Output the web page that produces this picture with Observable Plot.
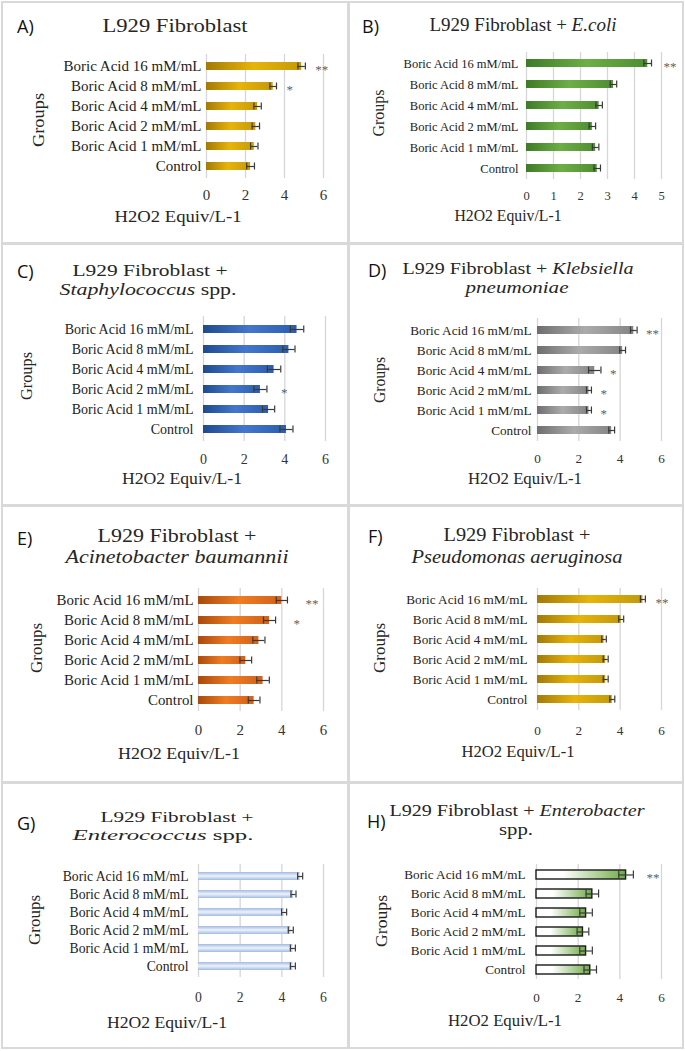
<!DOCTYPE html>
<html><head><meta charset="utf-8">
<script src="https://cdn.jsdelivr.net/npm/d3@7"></script>
<script src="https://cdn.jsdelivr.net/npm/@observablehq/plot@0.6"></script>
<style>
html,body{margin:0;padding:0;background:#fff;}
#wrap{position:relative;width:685px;height:1051px;overflow:hidden;background:#fff;}
.line{position:absolute;background:#d9d9d9;}
</style></head><body><div id="wrap"></div>
<script>
// ---------- data ----------
const groups = ["Boric Acid 16 mM/mL","Boric Acid 8 mM/mL","Boric Acid 4 mM/mL","Boric Acid 2 mM/mL","Boric Acid 1 mM/mL","Control"];
const ticks6 = [0,2,4,6];
const ticks5 = [0,1,2,3,4,5];
const xLabel = "H2O2 Equiv/L-1";
const yLabel = "Groups";

const valuesA = [4.88, 3.42, 2.62, 2.53, 2.45, 2.26];
const errorsA = [0.19, 0.17, 0.19, 0.19, 0.19, 0.20];
const starsA  = ["**","*","","","",""];

const valuesB = [4.49, 3.22, 2.69, 2.44, 2.56, 2.62];
const errorsB = [0.14, 0.12, 0.12, 0.12, 0.12, 0.12];
const starsB  = ["**","","","","",""];

const valuesC = [4.60, 4.20, 3.47, 2.80, 3.20, 4.08];
const errorsC = [0.33, 0.30, 0.33, 0.32, 0.30, 0.32];
const starsC  = ["","","","*","",""];

const valuesD = [4.66, 4.12, 2.77, 2.49, 2.49, 3.59];
const errorsD = [0.16, 0.14, 0.30, 0.12, 0.12, 0.14];
const starsD  = ["**","","*","*","*",""];

const valuesE = [4.00, 3.41, 2.90, 2.27, 3.10, 2.67];
const errorsE = [0.27, 0.29, 0.29, 0.28, 0.30, 0.28];
const starsE  = ["**","*","","","",""];

const valuesF = [5.10, 4.05, 3.22, 3.30, 3.30, 3.62];
const errorsF = [0.12, 0.12, 0.11, 0.12, 0.12, 0.12];
const starsF  = ["**","","","","",""];

const valuesG = [4.88, 4.56, 4.11, 4.43, 4.53, 4.53];
const errorsG = [0.12, 0.12, 0.12, 0.12, 0.12, 0.12];
const starsG  = ["","","","","",""];

const valuesH = [4.30, 2.68, 2.38, 2.23, 2.38, 2.58];
const errorsH = [0.35, 0.30, 0.30, 0.28, 0.30, 0.30];
const starsH  = ["**","","","","",""];

const titleA = [[["L929 Fibroblast", false]]];
const titleB = [[["L929 Fibroblast + ", false], ["E.coli", true]]];
const titleC = [[["L929 Fibroblast +", false]], [["Staphylococcus", true], [" spp.", false]]];
const titleD = [[["L929 Fibroblast + ", false], ["Klebsiella", true]], [["pneumoniae", true]]];
const titleE = [[["L929 Fibroblast +", false]], [["Acinetobacter baumannii", true]]];
const titleF = [[["L929 Fibroblast +", false]], [["Pseudomonas aeruginosa", true]]];
const titleG = [[["L929 Fibroblast +", false]], [["Enterococcus", true], [" spp.", false]]];
const titleH = [[["L929 Fibroblast + ", false], ["Enterobacter", true]], [["spp.", false]]];

// ---------- styles ----------
const serif = 'Liberation Serif, "Times New Roman", Tinos, "DejaVu Serif", serif';
const gold   = {dir:"h", stops:[[0,"#A27A06"],[0.5,"#E8B30A"],[1,"#C39A0C"]]};
const green  = {dir:"h", stops:[[0,"#3F7A28"],[0.5,"#6DAE46"],[1,"#4F8E33"]]};
const blue   = {dir:"h", stops:[[0,"#1E4A8E"],[0.5,"#4477CC"],[1,"#2B5DAE"]]};
const gray   = {dir:"h", stops:[[0,"#6E6E6E"],[0.5,"#ABABAB"],[1,"#858585"]]};
const orange = {dir:"h", stops:[[0,"#A84A0C"],[0.5,"#F07C22"],[1,"#D0621A"]]};
const lblue  = {dir:"v", stops:[[0,"#A3BBE2"],[0.25,"#C6D6EE"],[0.5,"#EEF3FA"],[0.75,"#C6D6EE"],[1,"#A3BBE2"]]};
const wgreen = {dir:"h", stops:[[0,"#FFFFFF"],[0.3,"#FFFFFF"],[1,"#6FAA45"]]};

const panels = [
 {key:"A", letter:"A)", letterPos:[17,33], values:valuesA, errors:errorsA, stars:starsA, ticks:ticks6, domain:[0,6],
  box:[2,2,346,241], frame:[206,323,54,178], font:15, tickPad:11, labelPad:5, padIn:0.59, starDx:10, grad:gold, tsize:18,
  title:titleA, titlePos:[{cx:175,y:32,w:145}], xl:{cx:178,y:222,w:127}, yl:{x:44,cy:120,w:54}},
 {key:"B", letter:"B)", letterPos:[362,33], values:valuesB, errors:errorsB, stars:starsB, ticks:ticks5, domain:[0,5],
  box:[349,2,334,241], frame:[526,661,52,179], font:12.5, tickPad:12, labelPad:8, padIn:0.64, starDx:12, grad:green, tsize:18,
  title:titleB, titlePos:[{cx:523,y:31,w:187}], xl:{cx:508,y:221,w:107}, yl:{x:384,cy:113,w:47}},
 {key:"C", letter:"C)", letterPos:[17,278], values:valuesC, errors:errorsC, stars:starsC, ticks:ticks6, domain:[0,6],
  box:[2,243,346,262], frame:[203,325,316,441], font:14, tickPad:13, labelPad:10, padIn:0.62, starDx:14, grad:blue, tsize:17,
  title:titleC, titlePos:[{cx:150,y:276,w:155},{cx:148,y:295,w:177}], xl:{cx:182,y:484,w:120}, yl:{x:32,cy:376,w:48}},
 {key:"D", letter:"D)", letterPos:[368,277], values:valuesD, errors:errorsD, stars:starsD, ticks:ticks6, domain:[0,6],
  box:[349,243,334,262], frame:[537,661,318,441], font:13.2, tickPad:12, labelPad:6, padIn:0.62, starDx:9, grad:gray, tsize:17,
  title:titleD, titlePos:[{cx:518,y:274,w:231},{cx:517,y:293,w:103}], xl:{cx:525,y:484,w:114}, yl:{x:385,cy:380,w:46}},
 {key:"E", letter:"E)", letterPos:[17,545], values:valuesE, errors:errorsE, stars:starsE, ticks:ticks6, domain:[0,6],
  box:[2,505,346,277], frame:[198,323,588,711], font:14.9, tickPad:13, labelPad:5, padIn:0.60, starDx:18, grad:orange, tsize:18,
  title:titleE, titlePos:[{cx:177,y:542,w:159},{cx:177,y:563,w:223}], xl:{cx:179,y:759,w:122}, yl:{x:42,cy:648,w:50}},
 {key:"F", letter:"F)", letterPos:[368,543], values:valuesF, errors:errorsF, stars:starsF, ticks:ticks6, domain:[0,6],
  box:[349,505,334,277], frame:[537,661,588,710], font:13.2, tickPad:15, labelPad:10, padIn:0.62, starDx:10, grad:gold, tsize:18,
  title:titleF, titlePos:[{cx:517,y:541,w:147},{cx:517,y:563,w:211}], xl:{cx:518,y:757,w:113}, yl:{x:385,cy:648,w:50}},
 {key:"G", letter:"G)", letterPos:[17,830], values:valuesG, errors:errorsG, stars:starsG, ticks:ticks6, domain:[0,6],
  box:[2,782,346,267], frame:[198,323,864,977], font:13.7, tickPad:15, labelPad:10, padIn:0.58, starDx:10, grad:lblue, tsize:15,
  title:titleG, titlePos:[{cx:177,y:822,w:153},{cx:163,y:840,w:181}], xl:{cx:167,y:1028,w:120}, yl:{x:40,cy:920,w:50}},
 {key:"H", letter:"H)", letterPos:[367,828], values:valuesH, errors:errorsH, stars:starsH, ticks:ticks6, domain:[0,6],
  box:[349,782,334,267], frame:[536,661,864,979], font:13.2, tickPad:13, labelPad:11, padIn:0.55, starDx:13, grad:wgreen, barStroke:"#1a1a1a", tsize:16,
  title:titleH, titlePos:[{cx:517,y:816,w:255},{cx:516,y:835,w:34}], xl:{cx:505,y:1026,w:114}, yl:{x:387,cy:921,w:52}}
];

const wrap = document.getElementById("wrap");

// panel frames (light gray borders)
[[1,1,683,2],[1,1047,683,2],[1,1,2,1048],[682,1,2,1048],[347,1,3,1048],[1,242,683,2.5],[1,504,683,2.5],[1,781,683,2.5]]
 .forEach(([x,y,w,h]) => {
   const d = document.createElement("div"); d.className = "line";
   Object.assign(d.style, {left:x+"px", top:y+"px", width:w+"px", height:h+"px"});
   wrap.appendChild(d);
 });

panels.forEach(p => {
  const data = groups.map((g,i) => ({g, v:p.values[i], e:p.errors[i], s:p.stars[i]}));
  const [bx,by,bw,bh] = p.box;
  const [fl,fr,ft,fb] = p.frame;
  const gid = "grad-" + p.key;
  const svg = Plot.plot({
    width: bw, height: bh,
    marginLeft: fl - bx, marginRight: bx + bw - fr, marginTop: ft - by, marginBottom: by + bh - fb,
    style: {fontFamily: serif, fontSize: p.font + "px", color: "#262626", background: "transparent", overflow: "visible"},
    x: {domain: p.domain},
    y: {domain: groups, paddingInner: p.padIn, paddingOuter: p.padIn / 2},
    marks: [
      Plot.gridX(p.ticks, {stroke: "#d6d6d6", strokeOpacity: 1, strokeWidth: 1.3}),
      Plot.barX(data, {x: "v", y: "g", fill: `url(#${gid})`, stroke: p.barStroke || "none", strokeWidth: 1.4}),
      Plot.ruleY(data, {y: "g", x1: d => d.v - d.e, x2: d => d.v + d.e, stroke: "#3a3a3a", strokeWidth: 1.2}),
      Plot.tickX(data, {x: d => d.v - d.e, y: "g", stroke: "#3a3a3a", strokeWidth: 1.2, insetTop: 0.5, insetBottom: 0.5}),
      Plot.tickX(data, {x: d => d.v + d.e, y: "g", stroke: "#3a3a3a", strokeWidth: 1.2, insetTop: 0.5, insetBottom: 0.5}),
      Plot.text(data.filter(d => d.s), {x: d => d.v + d.e, y: "g", text: "s", textAnchor: "start", dx: p.starDx, dy: 3, fontSize: 13, fill: "#5f5f5f"}),
      Plot.axisX({ticks: p.ticks, tickFormat: d => String(d), tickSize: 0, tickPadding: p.tickPad, fontSize: p.font, label: null, color: "#333"}),
      Plot.axisY({tickSize: 0, tickPadding: p.labelPad, fontSize: p.font, label: null, color: "#222"})
    ]
  });
  const defs = d3.select(svg).insert("defs", ":first-child");
  const lg = defs.append("linearGradient").attr("id", gid)
    .attr("x1", 0).attr("y1", 0).attr("x2", p.grad.dir === "h" ? 1 : 0).attr("y2", p.grad.dir === "h" ? 0 : 1);
  p.grad.stops.forEach(([o,c]) => lg.append("stop").attr("offset", o).attr("stop-color", c));
  Object.assign(svg.style, {position: "absolute", left: bx + "px", top: by + "px"});
  wrap.appendChild(svg);
});

// overlay text: titles, panel letters, axis titles
const ov = d3.select(wrap).append("svg").attr("width", 685).attr("height", 1051)
  .style("position", "absolute").style("left", "0px").style("top", "0px").style("pointer-events", "none")
  .style("font-family", serif);

panels.forEach(p => {
  p.title.forEach((segs, li) => {
    const L = p.titlePos[li];
    const t = ov.append("text").attr("x", L.cx).attr("y", L.y).attr("text-anchor", "middle")
      .style("font-family", serif).attr("font-size", p.tsize).attr("fill", "#262626")
      .attr("textLength", L.w).attr("lengthAdjust", "spacingAndGlyphs");
    segs.forEach(([s, it]) => t.append("tspan").attr("font-style", it ? "italic" : "normal").text(s));
  });
  ov.append("text").attr("x", p.letterPos[0]).attr("y", p.letterPos[1])
    .style("font-family", "'Open Sans','Liberation Sans',sans-serif").attr("font-size", 18).attr("fill", "#111")
    .text(p.letter);
  ov.append("text").attr("x", p.xl.cx).attr("y", p.xl.y).attr("text-anchor", "middle")
    .style("font-family", serif).attr("font-size", 16).attr("fill", "#262626")
    .attr("textLength", p.xl.w).attr("lengthAdjust", "spacingAndGlyphs").text(xLabel);
  ov.append("text").attr("transform", `translate(${p.yl.x},${p.yl.cy}) rotate(-90)`).attr("text-anchor", "middle")
    .style("font-family", serif).attr("font-size", 16).attr("fill", "#262626")
    .attr("textLength", p.yl.w).attr("lengthAdjust", "spacingAndGlyphs").text(yLabel);
});
</script>
</body></html>
